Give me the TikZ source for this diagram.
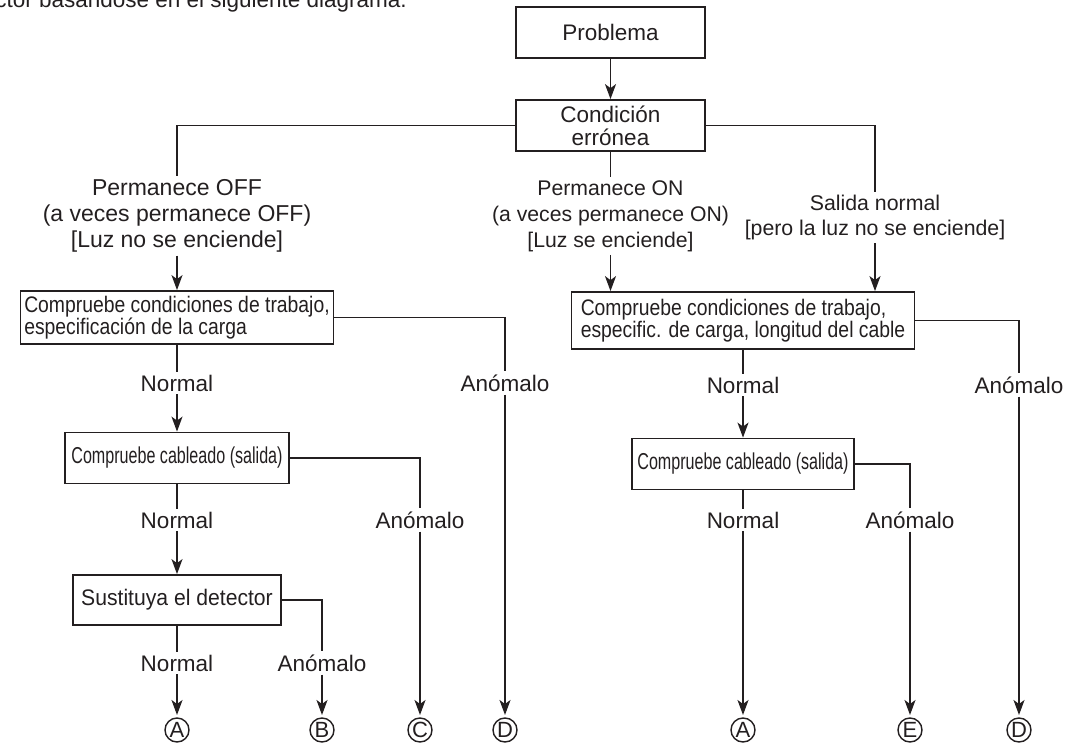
\documentclass[tikz,border=0pt]{standalone}
\usepackage{fontspec}
\setmainfont{Liberation Sans}
\newfontfamily\narrowsf[FakeStretch=0.86]{Liberation Sans}
\newfontfamily\sustsf[FakeStretch=0.94]{Liberation Sans}
\newfontfamily\condsf[FakeStretch=0.70]{Liberation Sans}
\usepackage{xcolor}
\usetikzlibrary{positioning,arrows.meta}
\definecolor{ink}{HTML}{231F20}
\newcommand{\lblfont}{\fontsize{22.5}{26}\selectfont}
\tikzset{
  blk/.style={draw=ink, line width=1.8pt, inner sep=0pt, align=center, text=ink, font=\lblfont},
  wide/.style={blk, align=left, font=\narrowsf\fontsize{22.5}{22}\selectfont},
  cab/.style={blk, minimum height=51pt, font=\condsf\fontsize{23}{23}\selectfont},
  lbl/.style={inner sep=3pt, align=center, text=ink, font=\lblfont},
  endc/.style={draw=ink, circle, line width=1.4pt, minimum size=24pt, inner sep=0pt, outer sep=3pt, text=ink, font=\fontsize{22}{22}\selectfont},
  ln/.style={draw=ink, line width=1.5pt},
  arr/.style={ln, -{Stealth[length=15pt, width=11pt, inset=4pt]}},
}

\begin{document}
\begin{tikzpicture}[x=1pt, y=-1pt]
\useasboundingbox (0,0) rectangle (1072,744);
\clip (0,0) rectangle (1072,744);
% page text cut off above the chart
\node[lbl, inner sep=0pt, anchor=base east] (intro) at (407,7) {tector basándose en el siguiente diagrama.};
% top
\node[blk, minimum width=189pt, minimum height=51pt] (prob) at (610.5,32.5) {Problema};
\node[blk, minimum width=189pt, minimum height=51pt, font=\fontsize{22.5}{23}\selectfont] (cond) at (610.5,125.5) {Condición\\errónea};
\node[lbl, font=\fontsize{23}{26}\selectfont] (off) at (177,216) {Permanece OFF\\(a veces permanece OFF)\\{}[Luz no se enciende]};
\node[lbl, font=\fontsize{21.2}{26}\selectfont] (on) at (610.5,216) {Permanece ON\\(a veces permanece ON)\\{}[Luz se enciende]};
\node[lbl, font=\fontsize{21.3}{25}\selectfont] (sal) at (875,217.5) {Salida normal\\{}[pero la luz no se enciende]};
% left branch
\node[wide, minimum width=313pt, minimum height=53pt] (lb1) at (177,317.5) {Compruebe condiciones de trabajo,\\especificación de la carga};
\node[lbl] (lnorm1) at (177,383) {Normal};
\node[lbl] (lanom1) at (505,383) {Anómalo};
\node[cab, minimum width=224pt] (lcab) at (177,458) {Compruebe cableado (salida)};
\node[lbl] (lnorm2) at (177,520) {Normal};
\node[lbl] (lanom2) at (420,520) {Anómalo};
\node[blk, minimum width=208pt, minimum height=50pt, font=\sustsf\lblfont] (sust) at (177,600) {Sustituya el detector};
\node[lbl] (lnorm3) at (177,663) {Normal};
\node[lbl] (lanom3) at (322,663) {Anómalo};
\node[endc] (la) at (177,730) {A};
\node[endc] (lb) at (322,730) {B};
\node[endc] (lc) at (420,730) {C};
\node[endc] (ld) at (505,730) {D};
% right branch
\node[wide, minimum width=343pt, minimum height=57pt] (rb1) at (743,320.5) {Compruebe condiciones de trabajo,\\especific. de carga, longitud del cable};
\node[lbl] (rnorm1) at (743,385) {Normal};
\node[lbl] (ranom1) at (1019,385) {Anómalo};
\node[cab, minimum width=222pt] (rcab) at (743,464) {Compruebe cableado (salida)};
\node[lbl] (rnorm2) at (743,520) {Normal};
\node[lbl] (ranom2) at (910,520) {Anómalo};
\node[endc] (ra) at (743,730) {A};
\node[endc] (re) at (910,730) {E};
\node[endc] (rd) at (1019,730) {D};
% connectors
\draw[arr] (prob) -- (cond);
\draw[ln] (cond.west) -| (off.north);
\draw[ln] (cond.east) -| (sal.north);
\draw[ln] (cond) -- (on);
\draw[arr] (off) -- (lb1);
\draw[arr] (on.south) -- (on.south |- rb1.north);
\draw[arr] (sal.south) -- (sal.south |- rb1.north);
\foreach \a/\b in {lb1/lnorm1,lcab/lnorm2,sust/lnorm3,rb1/rnorm1,rcab/rnorm2} \draw[ln] (\a) -- (\b);
\foreach \a/\b in {lb1/lanom1,lcab/lanom2,sust/lanom3,rb1/ranom1,rcab/ranom2} \draw[ln] (\a.east) -| (\b.north);
\foreach \a/\b in {lnorm1/lcab,lnorm2/sust,lnorm3/la,lanom3/lb,lanom2/lc,lanom1/ld,rnorm1/rcab,rnorm2/ra,ranom2/re,ranom1/rd} \draw[arr] (\a) -- (\b);
\end{tikzpicture}
\end{document}
